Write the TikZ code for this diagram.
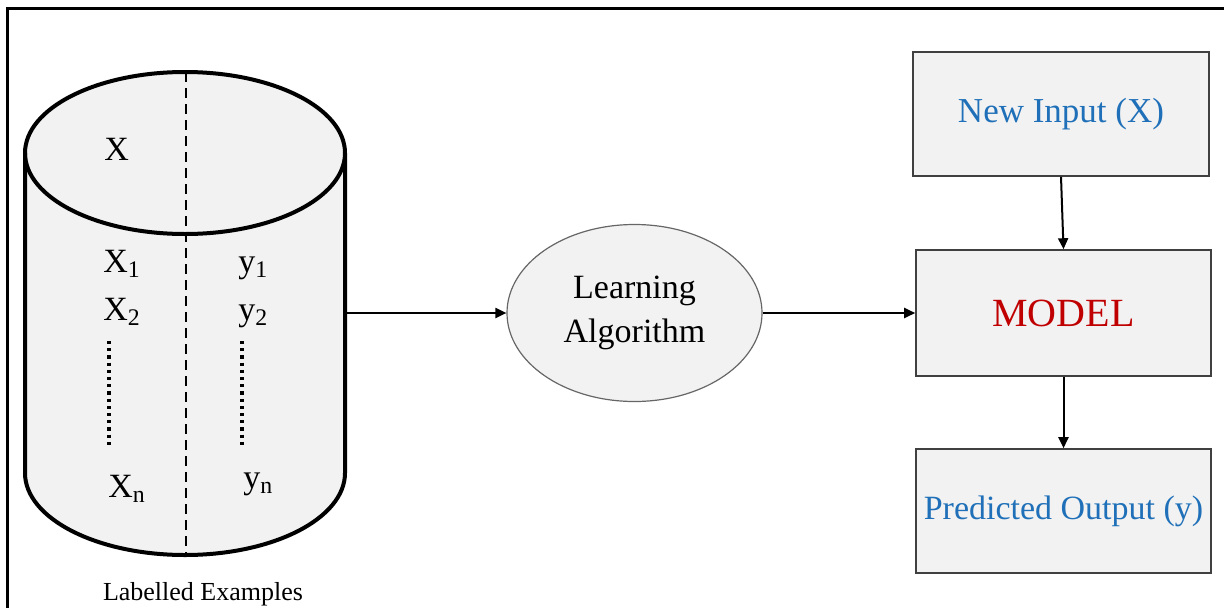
\documentclass[tikz,border=0pt]{standalone}
\usepackage{fontspec}
\setmainfont{Liberation Serif}
\usepackage{tikz}
\usetikzlibrary{arrows.meta,positioning,shapes.geometric}

\definecolor{boxfill}{HTML}{F2F2F2}
\definecolor{boxline}{HTML}{404040}
\definecolor{inblue}{HTML}{1F70B8}
\definecolor{modelred}{HTML}{C00000}

\tikzset{
    flowbox/.style={draw=boxline, line width=0.8pt, fill=boxfill, inner sep=0pt},
    flowarrow/.style={-{Triangle[length=5.5pt,width=5pt]}, line width=1pt},
    datalabel/.style={anchor=base west, inner sep=0pt, font=\fontsize{17}{20}\selectfont},
    dotcol/.style={line width=1.8pt, dash pattern=on 1.6pt off 2pt}
}

\begin{document}
\begin{tikzpicture}[x=0.5pt,y=0.5pt]
        \useasboundingbox (0,0) rectangle (1224,607);

        % frame
        \draw[line width=1.5pt] (7,-10) -- (7,599) -- (1240,599);

        % cylinder
        \fill[boxfill] (25,454) -- (25,134) arc[start angle=180, end angle=360, x radius=160, y radius=82]
            -- (345,454) arc[start angle=0, end angle=180, x radius=160, y radius=81] -- cycle;
        \draw[line width=2pt] (25,454) -- (25,134) arc[start angle=180, end angle=360, x radius=160, y radius=82] -- (345,454);
        \draw[line width=2pt] (185,454) ellipse[x radius=160, y radius=81];
        \draw[line width=1.4pt, dash pattern=on 5pt off 3pt] (186,535) -- (186,52);
        \draw[dotcol] (109,266) -- (109,159);
        \draw[dotcol] (242,266) -- (242,159);
        \coordinate (dbout) at (345,294);

        \node[datalabel] (xhead) at (104,447) {X};
        \node[datalabel] (xone) at (103,335) {X\textsubscript{1}};
        \node[datalabel] (xtwo) at (103,287) {X\textsubscript{2}};
        \node[datalabel] (xlast) at (108,110) {X\textsubscript{n}};
        \node[datalabel] (yone) at (238,335) {y\textsubscript{1}};
        \node[datalabel] (ytwo) at (238,287) {y\textsubscript{2}};
        \node[datalabel] (ylast) at (243,119) {y\textsubscript{n}};
        \node[anchor=base, inner sep=0pt, font=\fontsize{13}{15}\selectfont] (dbname) at (203,7) {Labelled Examples};

        % learning algorithm
        \node[ellipse, draw=boxline!80, line width=0.6pt, fill=boxfill, minimum width=127.5pt, minimum height=88.5pt,
            align=center, font=\fontsize{17}{22}\selectfont] (algo) at (634.5,294) {Learning\\Algorithm};

        % boxes
        \node[flowbox, minimum width=148pt, minimum height=62pt, text=inblue, font=\fontsize{17.5}{20}\selectfont]
            (newin) at (1061,493) {New Input (X)};
        \node[flowbox, minimum width=147.5pt, minimum height=63pt, text=modelred, font=\fontsize{20}{24}\selectfont]
            (model) at (1063.5,294) {MODEL};
        \node[flowbox, minimum width=147.5pt, minimum height=62pt, text=inblue, font=\fontsize{17}{20}\selectfont]
            (predout) at (1063.5,96) {Predicted Output (y)};

        \draw[flowarrow] (dbout) -- (algo.west);
        \draw[flowarrow] (algo.east) -- (model.west);
        \draw[flowarrow] (newin.south) -- (model.north);
        \draw[flowarrow] (model.south) -- (predout.north);
    \end{tikzpicture}
\end{document}
